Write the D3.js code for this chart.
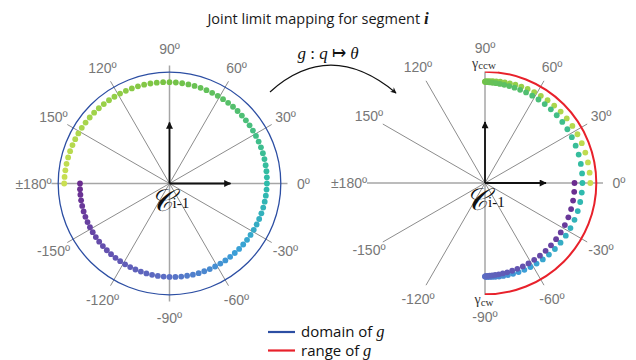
<!DOCTYPE html>
<html><head><meta charset="utf-8">
<script src="https://cdn.jsdelivr.net/npm/d3@7"></script>
<style>body{margin:0;background:#fff}</style>
</head><body>
<svg id="chart" width="636" height="360"></svg>
<script>
// Spoke directions and their labels (degrees, counter-clockwise from +x)
const tickAngles = [0, 30, 60, 90, 120, 150, 180, -150, -120, -90, -60, -30];
const tickLabels = ["0º", "30º", "60º", "90º", "120º", "150º", "±180º", "-150º", "-120º", "-90º", "-60º", "-30º"];

// Sampled joint values q (degrees)
const jointAngles = [
  180, 176.4, 172.8, 169.2, 165.6, 162, 158.4, 154.8, 151.2, 147.6,
  144, 140.4, 136.8, 133.2, 129.6, 126, 122.4, 118.8, 115.2, 111.6,
  108, 104.4, 100.8, 97.2, 93.6, 90, 86.4, 82.8, 79.2, 75.6,
  72, 68.4, 64.8, 61.2, 57.6, 54, 50.4, 46.8, 43.2, 39.6,
  36, 32.4, 28.8, 25.2, 21.6, 18, 14.4, 10.8, 7.2, 3.6,
  0,
  -3.6, -7.2, -10.8, -14.4, -18, -21.6, -25.2, -28.8, -32.4, -36,
  -39.6, -43.2, -46.8, -50.4, -54, -57.6, -61.2, -64.8, -68.4, -72,
  -75.6, -79.2, -82.8, -86.4, -90, -93.6, -97.2, -100.8, -104.4, -108,
  -111.6, -115.2, -118.8, -122.4, -126, -129.6, -133.2, -136.8, -140.4, -144,
  -147.6, -151.2, -154.8, -158.4, -162, -165.6, -169.2, -172.8, -176.4, -180
];

// Segment angles theta = g(q) (degrees), same order as jointAngles
const mappedAngles = [
  0, 5.65, 11.28, 16.86, 22.38, 27.81, 33.13, 38.32, 43.36, 48.22,
  52.9, 57.37, 61.61, 65.61, 69.35, 72.81, 75.99, 78.87, 81.43, 83.68,
  85.6, 87.17, 88.41, 89.29, 89.82, 90, 89.82, 89.29, 88.41, 87.17,
  85.6, 83.68, 81.43, 78.87, 75.99, 72.81, 69.35, 65.61, 61.61, 57.37,
  52.9, 48.22, 43.36, 38.32, 33.13, 27.81, 22.38, 16.86, 11.28, 5.65,
  0,
  -5.65, -11.28, -16.86, -22.38, -27.81, -33.13, -38.32, -43.36, -48.22, -52.9,
  -57.37, -61.61, -65.61, -69.35, -72.81, -75.99, -78.87, -81.43, -83.68, -85.6,
  -87.17, -88.41, -89.29, -89.82, -90, -89.82, -89.29, -88.41, -87.17, -85.6,
  -83.68, -81.43, -78.87, -75.99, -72.81, -69.35, -65.61, -61.61, -57.37, -52.9,
  -48.22, -43.36, -38.32, -33.13, -27.81, -22.38, -16.86, -11.28, -5.65, 0
];

// Joint limits: counter-clockwise and clockwise
const limitAngles = [90, -90];
const limitNames = ["ccw", "cw"];

// Colour ramp keyed on q
const colorStops = [180, 135, 90, 45, 0, -45, -90, -135, -180];
const colorValues = ["#cadf52", "#9ed249", "#76c244", "#4fbf72", "#2ebcaa", "#3aa0d8", "#5a70c6", "#6450ae", "#6b2c8f"];

const svg = d3.select("#chart");

const color = d3.scaleLinear().domain(colorStops).range(colorValues).interpolate(d3.interpolateRgb);
const rad = d3.scaleLinear().domain([0, 360]).range([0, 2 * Math.PI]);
// radial offset by sample order so overlapping samples stay visible
const rIdx = d3.scaleLinear().domain([0, jointAngles.length - 1]).range([105.3, 89.5]);

const R_CIRCLE = 111.3, R_SPOKE = 118, R_LABEL = 134;

const defs = svg.append("defs");
defs.append("marker").attr("id", "head").attr("viewBox", "0 0 10 10")
  .attr("refX", 9).attr("refY", 5).attr("markerWidth", 9).attr("markerHeight", 7)
  .attr("markerUnits", "userSpaceOnUse").attr("orient", "auto")
  .append("path").attr("d", "M0,0 L10,5 L0,10 Z").attr("fill", "#111");
defs.append("marker").attr("id", "head2").attr("viewBox", "0 0 10 10")
  .attr("refX", 9).attr("refY", 5).attr("markerWidth", 8).attr("markerHeight", 6)
  .attr("markerUnits", "userSpaceOnUse").attr("orient", "auto")
  .append("path").attr("d", "M0,0 L10,5 L0,10 L3,5 Z").attr("fill", "#111");

function px(a, r) { return r * Math.cos(rad(a)); }
function py(a, r) { return -r * Math.sin(rad(a)); }

function polarPanel(cx, cy, angles, kind) {
  const g = svg.append("g").attr("transform", `translate(${cx},${cy})`);

  // spokes
  g.selectAll("line.spoke").data(tickAngles).join("line")
    .attr("x1", 0).attr("y1", 0)
    .attr("x2", d => px(d, R_SPOKE)).attr("y2", d => py(d, R_SPOKE))
    .attr("stroke", d => d % 90 === 0 ? "#a6a6a6" : "#6e6e6e")
    .attr("stroke-width", d => d % 90 === 0 ? 1.5 : 0.8);

  // labels
  g.selectAll("text.tick").data(tickAngles).join("text")
    .attr("x", d => px(d, R_LABEL + (d === 180 ? 2 : 0)))
    .attr("y", d => py(d, R_LABEL + (d === 90 ? 1 : 0)))
    .attr("dy", "0.36em")
    .attr("text-anchor", "middle")
    .attr("font-family", "Liberation Sans, Arial, sans-serif")
    .attr("font-size", 14)
    .attr("fill", "#777")
    .text((d, i) => tickLabels[i]);

  if (kind === "domain") {
    g.append("circle").attr("r", R_CIRCLE).attr("fill", "none")
      .attr("stroke", "#2c4ea3").attr("stroke-width", 1.3);
  } else {
    // range arc, from the counter-clockwise to the clockwise limit through 0
    const p = d3.path();
    p.arc(0, 0, R_CIRCLE, -rad(limitAngles[0]), -rad(limitAngles[1]), false);
    g.append("path").attr("d", p.toString()).attr("fill", "none")
      .attr("stroke", "#e8212b").attr("stroke-width", 2);
    // limit labels
    limitAngles.forEach((a, i) => {
      const base = a > 0 ? -115.5 : 121;
      g.append("rect").attr("x", -13).attr("y", base - 9).attr("width", 26).attr("height", 13).attr("fill", "#fff");
      const t = g.append("text").attr("x", px(a, 0) - 1).attr("y", base)
        .attr("text-anchor", "middle")
        .attr("font-family", "Liberation Serif, Times New Roman, serif")
        .attr("fill", "#333");
      t.append("tspan").attr("font-size", 14).text("γ");
      t.append("tspan").attr("font-size", 11).attr("dy", 1.5).text(limitNames[i]);
    });
  }

  // samples
  g.selectAll("circle.pt").data(jointAngles).join("circle")
    .attr("cx", (d, i) => px(angles[i], rIdx(i)))
    .attr("cy", (d, i) => py(angles[i], rIdx(i)))
    .attr("r", 2.9)
    .attr("fill", d => color(d));

  // frame axes
  g.append("line").attr("x1", 0).attr("y1", 0).attr("x2", px(0, 61)).attr("y2", py(0, 61))
    .attr("stroke", "#111").attr("stroke-width", 1.8).attr("marker-end", "url(#head)");
  g.append("line").attr("x1", 0).attr("y1", 0).attr("x2", px(90, 61)).attr("y2", py(90, 61))
    .attr("stroke", "#111").attr("stroke-width", 1.8).attr("marker-end", "url(#head)");

  // frame name
  const c = g.append("text").attr("x", -20).attr("y", 27)
    .attr("font-family", "DejaVu Serif, serif").attr("fill", "#111");
  c.append("tspan").attr("font-size", 31).attr("font-style", "italic").text("𝒞");
  c.append("tspan").attr("font-size", 15).attr("dy", -3).attr("font-family", "Liberation Serif, serif").text("i-1");
}

polarPanel(169.5, 183.5, jointAngles, "domain");
polarPanel(485, 183, mappedAngles, "range");

// Title
const title = svg.append("text").attr("x", 318).attr("y", 24).attr("text-anchor", "middle")
  .attr("font-family", "Open Sans, sans-serif").attr("font-size", 14.5).attr("fill", "#1a1a1a");
title.append("tspan").text("Joint limit mapping for segment ");
title.append("tspan").attr("font-family", "Liberation Serif, serif").attr("font-style", "italic")
  .attr("font-weight", "bold").attr("font-size", 17).text("i");

// Mapping arrow
const arrowPath = d3.path();
arrowPath.moveTo(270, 92);
arrowPath.quadraticCurveTo(330, 38, 396, 93);
svg.append("path").attr("d", arrowPath.toString()).attr("fill", "none")
  .attr("stroke", "#111").attr("stroke-width", 1.2).attr("marker-end", "url(#head2)");
const gm = svg.append("text").attr("x", 328).attr("y", 59).attr("text-anchor", "middle")
  .attr("font-family", "Liberation Serif, serif").attr("font-size", 17).attr("fill", "#111");
gm.append("tspan").attr("font-style", "italic").text("g");
gm.append("tspan").text(" : ");
gm.append("tspan").attr("font-style", "italic").text("q");
gm.append("tspan").text(" ↦ ");
gm.append("tspan").attr("font-style", "italic").text("θ");

// Legend
const legendItems = [{label: "domain of ", color: "#2c4ea3"}, {label: "range of ", color: "#e8212b"}];
const lg = svg.append("g");
legendItems.forEach((d, i) => {
  const y = 332 + i * 18.5;
  lg.append("line").attr("x1", 268).attr("x2", 295).attr("y1", y).attr("y2", y)
    .attr("stroke", d.color).attr("stroke-width", 2.2);
  const t = lg.append("text").attr("x", 301).attr("y", y + 5)
    .attr("font-family", "Open Sans, sans-serif").attr("font-size", 15).attr("fill", "#111");
  t.append("tspan").text(d.label);
  t.append("tspan").attr("font-family", "Liberation Serif, serif").attr("font-style", "italic")
    .attr("font-size", 16.5).text("g");
});
</script>
</body></html>
